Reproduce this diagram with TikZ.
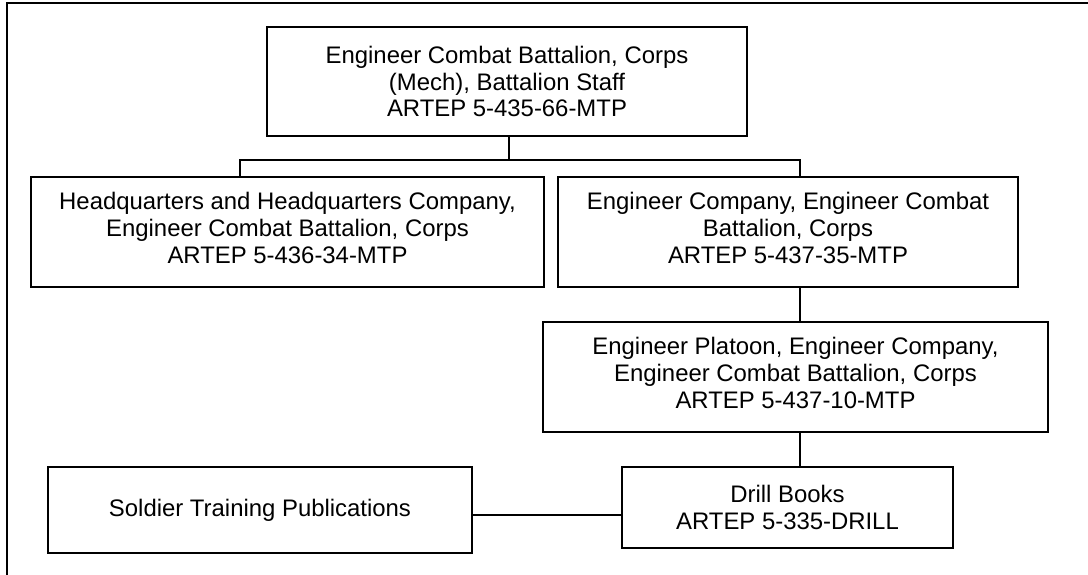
\documentclass[tikz,border=0pt]{standalone}
\usepackage{fontspec}
\setmainfont{Liberation Sans}
\newcommand\lowpad{\rule[-8pt]{0pt}{8pt}}
\begin{document}
\begin{tikzpicture}[x=1pt,y=-1pt,
  orgbox/.style={draw=black,line width=1.5pt,align=center,inner sep=0pt,
    font=\fontsize{23.9}{26.8}\selectfont},
  conn/.style={draw=black,line width=1.4pt}]
\useasboundingbox (0,0) rectangle (1088,575);
\fill[white] (0,0) rectangle (1088,575);
\draw[line width=2.2pt] (7,577) -- (7,3) -- (1090,3);

\node[orgbox,minimum width=480pt,minimum height=109pt] (top) at (507,81.5)
  {Engineer Combat Battalion, Corps\\(Mech), Battalion Staff\\ARTEP 5-435-66-MTP};
\node[orgbox,minimum width=513pt,minimum height=110pt] (hq) at (287.5,232)
  {Headquarters and Headquarters Company,\\Engineer Combat Battalion, Corps\\ARTEP 5-436-34-MTP\lowpad};
\node[orgbox,minimum width=460pt,minimum height=110pt] (engco) at (788,232)
  {Engineer Company, Engineer Combat\\Battalion, Corps\\ARTEP 5-437-35-MTP\lowpad};
\node[orgbox,minimum width=505pt,minimum height=110pt] (plat) at (795.5,377)
  {Engineer Platoon, Engineer Company,\\Engineer Combat Battalion, Corps\\ARTEP 5-437-10-MTP\lowpad};
\node[orgbox,minimum width=331pt,minimum height=81pt] (drill) at (787.5,507.5)
  {Drill Books\\ARTEP 5-335-DRILL};
\node[orgbox,minimum width=424pt,minimum height=86pt] (stp) at (260,510)
  {Soldier Training Publications};

\coordinate (jT) at (509,160);
\coordinate (jL) at (240,160);
\coordinate (jR) at (800,160);
\coordinate (jS) at (0,515);

\draw[conn] (top.south -| jT) -- (jT);
\draw[conn] (hq.north -| jL) -- (jL) -- (jR) -- (engco.north -| jR);
\draw[conn] (engco.south -| jR) -- (plat.north -| jR);
\draw[conn] (plat.south -| jR) -- (drill.north -| jR);
\draw[conn] (stp.east |- jS) -- (drill.west |- jS);
\end{tikzpicture}
\end{document}
